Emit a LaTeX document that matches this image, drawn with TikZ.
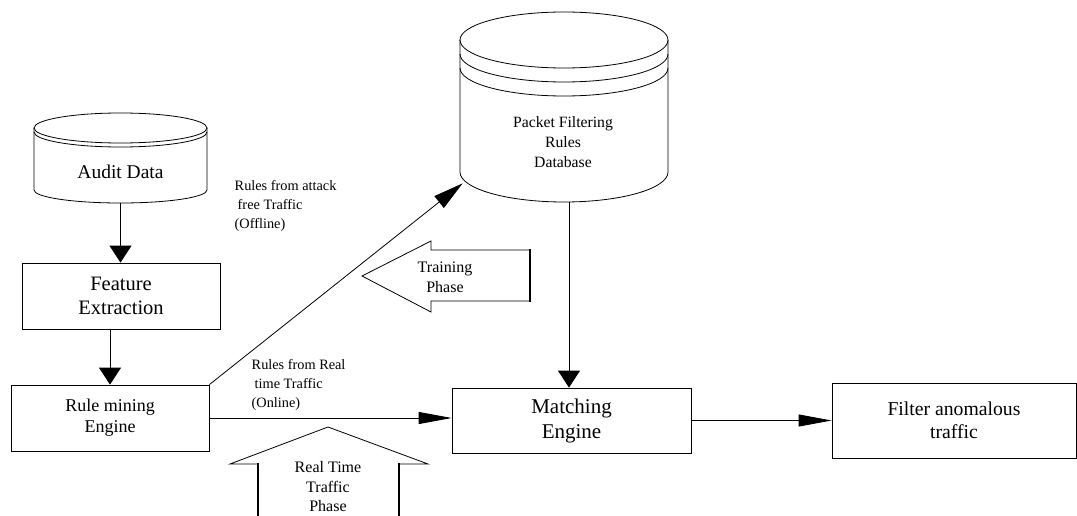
\documentclass[tikz,border=0pt]{standalone}
\usepackage{fontspec}
\setmainfont{Liberation Serif}
\usetikzlibrary{arrows.meta}
\begin{document}
\begin{tikzpicture}[x=1pt,y=-1pt,line width=0.8pt,
  box/.style={draw,inner sep=0pt,align=center},
  ghost/.style={inner sep=0pt},
  varr/.style={-{Triangle[length=17pt,width=22pt]}},
  harr/.style={-{Triangle[length=33pt,width=12pt]}},
  darr/.style={-{Triangle[length=30pt,width=15pt]}},
  bigtxt/.style={font=\fontsize{20.5}{24}\selectfont,align=center},
  midtxt/.style={font=\fontsize{16}{20}\selectfont,align=center},
  smalltxt/.style={font=\fontsize{14.3}{19}\selectfont,align=left}]
\useasboundingbox (0,0) rectangle (1077,516);

% Audit Data cylinder
\node[ghost,minimum width=173pt,minimum height=90pt] (audit) at (120.5,158) {};
\draw (120.5,128) ellipse [x radius=86.5, y radius=15];
\draw (34,132) arc[start angle=180,end angle=0,x radius=86.5,y radius=15];
\draw (34,128) -- (34,190) arc[start angle=180,end angle=0,x radius=86.5,y radius=13] -- (207,128);
\node[font=\fontsize{19.5}{23}\selectfont] (audittext) at (120.5,172) {Audit Data};

% Database cylinder
\node[ghost,minimum width=208pt,minimum height=190pt] (db) at (564,107) {};
\draw (564,40) ellipse [x radius=104, y radius=28];
\draw (460,54) arc[start angle=180,end angle=0,x radius=104,y radius=28];
\draw (460,68) arc[start angle=180,end angle=0,x radius=104,y radius=28];
\draw (460,40) -- (460,172) arc[start angle=180,end angle=0,x radius=104,y radius=30] -- (668,40);
\node[midtxt,font=\fontsize{15.7}{20}\selectfont] (dbtext) at (563,142) {Packet Filtering\\Rules\\Database};

% Boxes
\node[box,bigtxt,minimum width=198pt,minimum height=66pt] (feat) at (121,296) {Feature\\Extraction};
\node[box,font=\fontsize{18}{21}\selectfont,minimum width=198pt,minimum height=66pt] (rule) at (110,418) {Rule mining\\Engine};
\node[box,font=\fontsize{21}{25}\selectfont,minimum width=239pt,minimum height=65pt] (match) at (571.5,420.5) {Matching\\Engine};
\node[box,font=\fontsize{19.7}{23}\selectfont,minimum width=244pt,minimum height=75pt] (filter) at (954,420.5) {Filter anomalous\\traffic};

% Connectors
\draw[varr] (audit.south) -- (audit.south |- feat.north);
\draw[varr] (feat.south -| rule.north) -- (rule.north);
\draw[varr] ([xshift=5pt]db.south) -- ([xshift=5pt]db.south |- match.north);
\draw[darr] (rule.north east) -- ([shift={(3,-19)}]db.south west);
\draw[harr] (rule.east) -- (rule.east -| match.west);
\draw[harr] (match.east) -- (filter.west);

% Labels
\node[smalltxt,anchor=west] (lab1) at (231,206) {Rules from attack\\\hspace*{3pt}free Traffic\\(Offline)};
\node[smalltxt,anchor=west] (lab2) at (248,385) {Rules from Real\\\hspace*{3pt}time Traffic\\(Online)};

% Training phase block arrow
\draw (530,250) -- (431,250) -- (431,241) -- (362,276) -- (431,312) -- (431,301) -- (530,301);
\draw[line width=1.6pt] (530,249.4) -- (530,301.6);
\node[midtxt] (train) at (445,277) {Training\\Phase};

% Real time phase block arrow
\draw (258,464) -- (230,464) -- (328,427) -- (428,464) -- (399,464);
\draw[line width=1.6pt] (258,463.4) -- (258,520) (399,463.4) -- (399,520);
\node[midtxt,font=\fontsize{16}{19.5}\selectfont] (real) at (328,487) {Real Time\\Traffic\\Phase};
\end{tikzpicture}
\end{document}
